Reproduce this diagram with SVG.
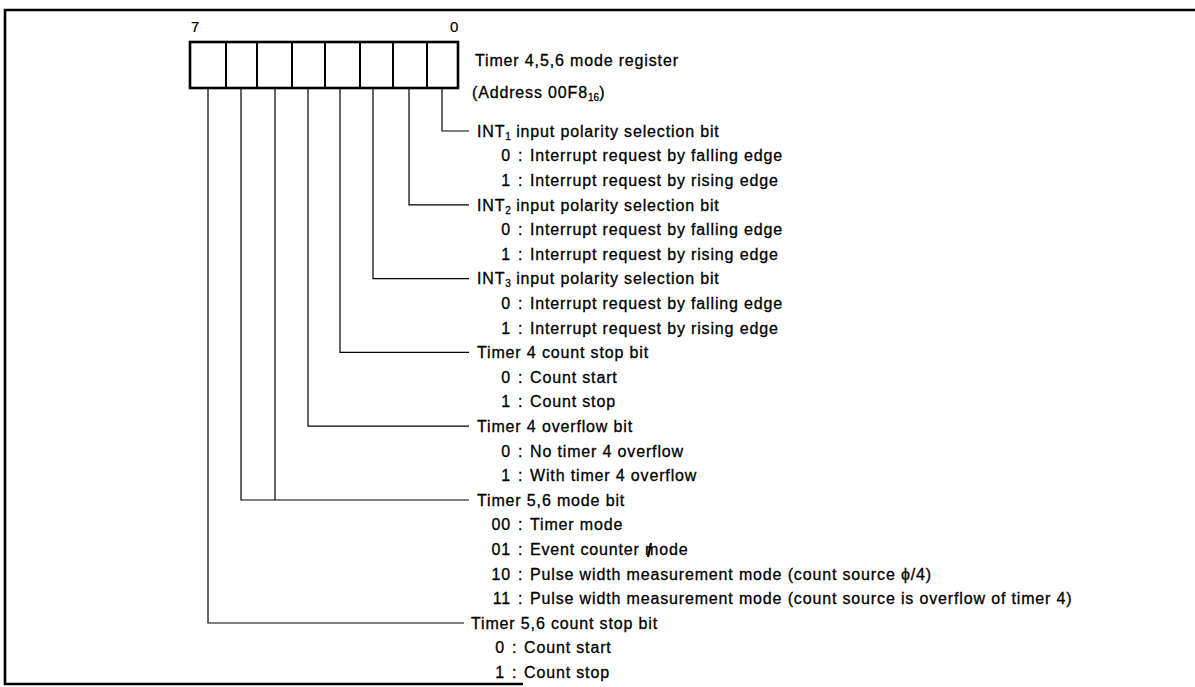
<svg xmlns="http://www.w3.org/2000/svg" width="1195" height="687" viewBox="0 0 1195 687">
<style>
text{font-family:"Liberation Sans",Arial,Helvetica,sans-serif;font-size:16px;letter-spacing:0.85px;fill:#000;stroke:#000;stroke-width:0.3px}
.sm{font-size:15px;letter-spacing:0;stroke-width:0.2px}
.sub{font-size:10px;letter-spacing:0}
.frame{fill:none;stroke:#000;stroke-width:2.6}
.reg{fill:#fff;stroke:#000;stroke-width:2.6}
.div{stroke:#000;stroke-width:2}
.lead{fill:none;stroke:#000;stroke-width:1.2}
.d{text-anchor:end}
</style>
<rect x="0" y="0" width="1195" height="687" fill="#fff"/>
<g id="frame">
<path class="frame" d="M1195 10 H5 V684 H523"/>
</g>
<g id="register">
<text class="sm" x="191" y="32">7</text>
<text class="sm" x="450" y="32">0</text>
<rect class="reg" x="190" y="42" width="268" height="46"/>
<path class="div" d="M226 42V88M257 42V88M292 42V88M325 42V88M360 42V88M393 42V88M427 42V88"/>
<text x="475" y="66">Timer 4,5,6 mode register</text>
<text x="472" y="98">(Address 00F8<tspan class="sub" dy="3">16</tspan><tspan dy="-3">)</tspan></text>
</g>
<g id="connectors">
<path class="lead" d="M442 88V131H469"/>
<path class="lead" d="M409 88V204.8H469"/>
<path class="lead" d="M373 88V278.6H469"/>
<path class="lead" d="M340 88V352.4H469"/>
<path class="lead" d="M308 88V426.2H469"/>
<path class="lead" d="M275 88V500"/>
<path class="lead" d="M241 88V500H469"/>
<path class="lead" d="M208 88V623H464"/>
</g>
<g id="bit0">
<text x="477" y="136.7">INT<tspan class="sub" dy="3">1</tspan><tspan dy="-3"> input polarity selection bit</tspan></text>
<text class="d" x="511" y="161.3">0</text><text x="518" y="161.3">:</text><text x="530" y="161.3">Interrupt request by falling edge</text>
<text class="d" x="511" y="185.9">1</text><text x="518" y="185.9">:</text><text x="530" y="185.9">Interrupt request by rising edge</text>
</g>
<g id="bit1">
<text x="477" y="210.5">INT<tspan class="sub" dy="3">2</tspan><tspan dy="-3"> input polarity selection bit</tspan></text>
<text class="d" x="511" y="235.1">0</text><text x="518" y="235.1">:</text><text x="530" y="235.1">Interrupt request by falling edge</text>
<text class="d" x="511" y="259.7">1</text><text x="518" y="259.7">:</text><text x="530" y="259.7">Interrupt request by rising edge</text>
</g>
<g id="bit2">
<text x="477" y="284.3">INT<tspan class="sub" dy="3">3</tspan><tspan dy="-3"> input polarity selection bit</tspan></text>
<text class="d" x="511" y="308.9">0</text><text x="518" y="308.9">:</text><text x="530" y="308.9">Interrupt request by falling edge</text>
<text class="d" x="511" y="333.5">1</text><text x="518" y="333.5">:</text><text x="530" y="333.5">Interrupt request by rising edge</text>
</g>
<g id="bit3">
<text x="477" y="358.1">Timer 4 count stop bit</text>
<text class="d" x="511" y="382.7">0</text><text x="518" y="382.7">:</text><text x="530" y="382.7">Count start</text>
<text class="d" x="511" y="407.3">1</text><text x="518" y="407.3">:</text><text x="530" y="407.3">Count stop</text>
</g>
<g id="bit4">
<text x="477" y="431.9">Timer 4 overflow bit</text>
<text class="d" x="511" y="456.5">0</text><text x="518" y="456.5">:</text><text x="530" y="456.5">No timer 4 overflow</text>
<text class="d" x="511" y="481.1">1</text><text x="518" y="481.1">:</text><text x="530" y="481.1">With timer 4 overflow</text>
</g>
<g id="bit56">
<text x="477" y="505.7">Timer 5,6 mode bit</text>
<text class="d" x="511" y="530.3">00</text><text x="518" y="530.3">:</text><text x="530" y="530.3">Timer mode</text>
<text class="d" x="511" y="554.9">01</text><text x="518" y="554.9">:</text><text x="530" y="554.9">Event counter mode</text>
<text class="d" x="511" y="579.5">10</text><text x="518" y="579.5">:</text><text x="530" y="579.5">Pulse width measurement mode (count source ϕ/4)</text>
<text class="d" x="511" y="604.1">11</text><text x="518" y="604.1">:</text><text x="530" y="604.1">Pulse width measurement mode (count source is overflow of timer 4)</text>
<path d="M651 543 L648 557" stroke="#000" stroke-width="2.2"/>
</g>
<g id="bit7">
<text x="471" y="628.7">Timer 5,6 count stop bit</text>
<text class="d" x="505" y="653.3">0</text><text x="512" y="653.3">:</text><text x="524" y="653.3">Count start</text>
<text class="d" x="505" y="677.9">1</text><text x="512" y="677.9">:</text><text x="524" y="677.9">Count stop</text>
</g>
</svg>
